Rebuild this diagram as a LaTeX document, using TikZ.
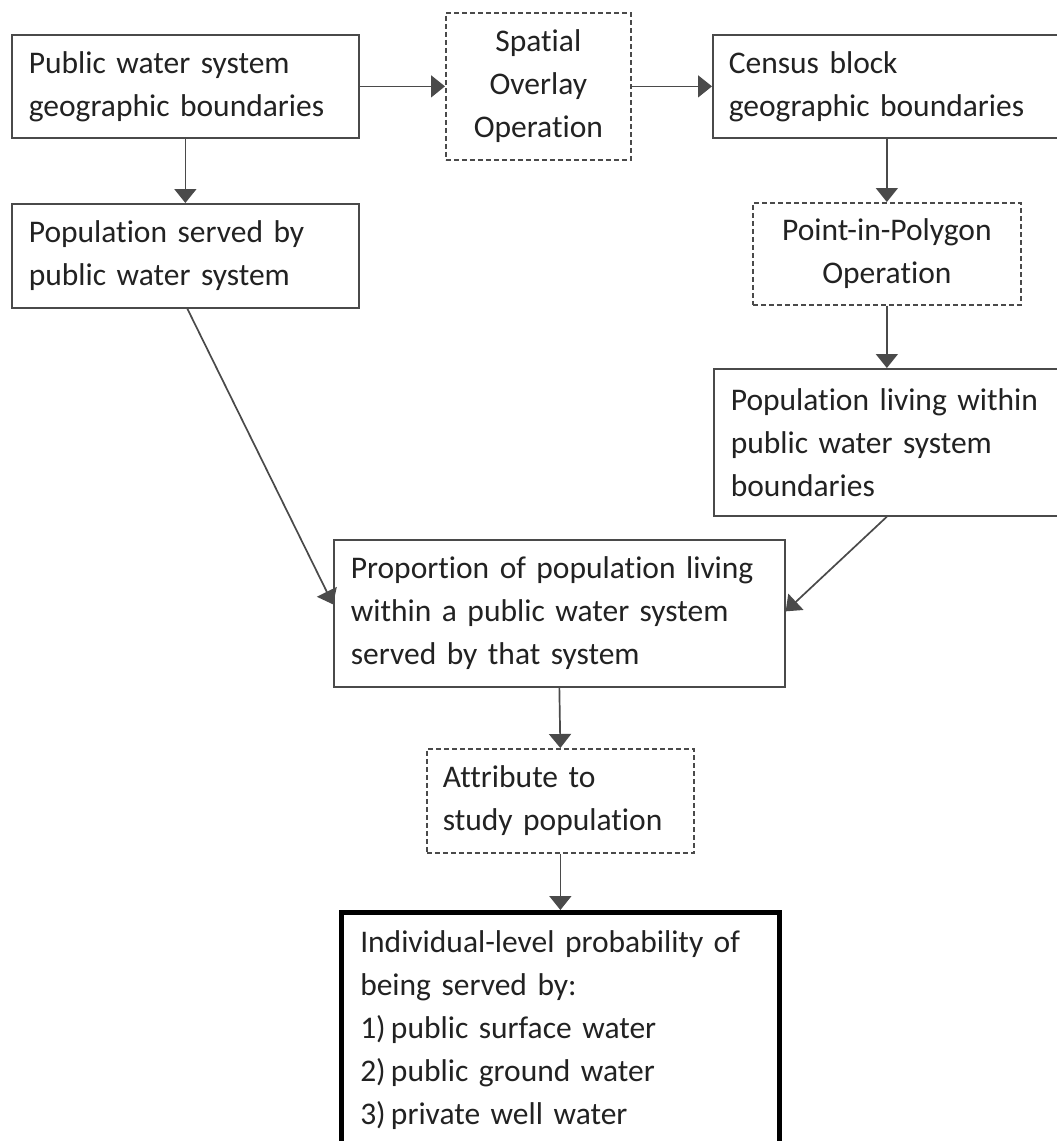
\documentclass[tikz,border=0pt]{standalone}
\usepackage{fontspec}
\setmainfont[Ligatures=NoCommon]{Carlito}
\usetikzlibrary{arrows.meta,calc}
\newcommand\fsz{\fontsize{31.5}{43}\selectfont}
\definecolor{txt}{HTML}{222222}
\definecolor{ln}{HTML}{4A4A4A}
\begin{document}
\begin{tikzpicture}[x=1pt,y=-1pt,
  box/.style={draw=ln, line width=1.7pt, rectangle, inner ysep=0pt, align=left,
    font=\fsz, text=txt, anchor=north west},
  opbox/.style={box, dash pattern=on 5pt off 3pt, align=center},
  finalbox/.style={box, draw=black, line width=4.5pt},
  arr/.style={draw=ln, line width=1.7pt, -{Triangle[length=14pt,width=22pt]}}]
\useasboundingbox (0,0) rectangle (1057,1141);
\clip (0,0) rectangle (1057,1141);
\fill[white] (0,0) rectangle (1057,1141);

\node[box, inner xsep=17pt, text width=313pt, minimum height=103pt] (b1) at (11,34)
  {Public water system\\geographic boundaries};
\node[opbox, inner xsep=6pt, text width=173pt, minimum height=147pt] (sp) at (445,12)
  {Spatial\\Overlay\\Operation};
\node[box, inner xsep=16pt, text width=326pt, minimum height=103pt] (cb) at (712,34)
  {Census block\\geographic boundaries};
\node[box, inner xsep=17pt, text width=313pt, minimum height=104pt] (b4) at (11,203)
  {Population served by\\public water system};
\node[opbox, inner xsep=6pt, text width=256pt, minimum height=102pt] (pip) at (752,202)
  {Point-in-Polygon\\Operation};
\node[box, inner xsep=17pt, text width=323pt, minimum height=147pt] (pop) at (713,368)
  {Population living within\\public water system\\boundaries};
\node[box, inner xsep=17pt, text width=417pt, minimum height=147pt] (prop) at (333,539)
  {Proportion of population living\\within a public water system\\served by that system};
\node[opbox, align=left, inner xsep=16pt, text width=235pt, minimum height=104pt] (attr) at (426,748)
  {Attribute to\\study population};
\node[finalbox, inner xsep=19pt, text width=400pt, minimum height=235pt] (fin) at (339,910)
  {Individual-level probability of\\being served by:\\1)\,public surface water\\2)\,public ground water\\3)\,private well water};

\draw[arr] (b1.south) -- (b4.north);
\draw[arr] (b1.east) -- (sp.west);
\draw[arr] (sp.east) -- (cb.west);
\draw[arr] (cb.south -| pip.north) -- (pip.north);
\draw[arr] (pip.south) -- (pip.south |- pop.north);
\draw[arr] ([xshift=2pt]b4.south) -- ([yshift=9pt]prop.west);
\draw[arr] (pop.south -| pip.south) -- ([yshift=2pt]prop.east);
\draw[arr] (prop.south) -- (attr.north);
\draw[arr] (attr.south) -- (attr.south |- fin.north);
\end{tikzpicture}
\end{document}
